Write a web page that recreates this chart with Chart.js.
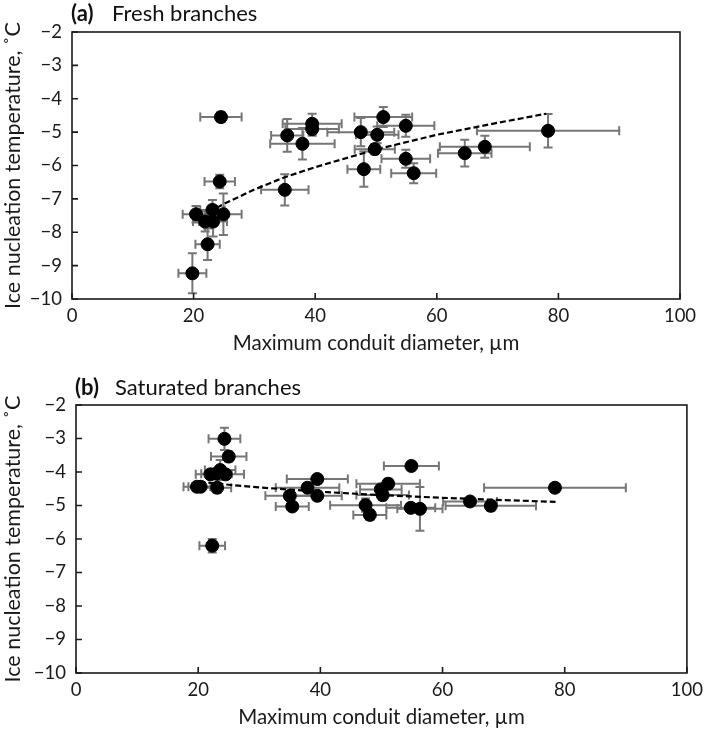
<!DOCTYPE html>
<html>
<head>
<meta charset="utf-8">
<script src="https://cdn.jsdelivr.net/npm/chart.js@4"></script>
<style>
  body { margin: 0; background: #fff; font-family: Lato, sans-serif; }
  #page { position: relative; width: 709px; height: 732px; }
  canvas { position: absolute; left: 0; }
  .lbl { position: absolute; font-size: 22px; line-height: 26px; color: #111; white-space: nowrap; }
  .lbl b { font-weight: bold; }
</style>
</head>
<body>
<div id="page">
  <canvas id="chartA" width="709" height="365" style="top:0"></canvas>
  <canvas id="chartB" width="709" height="367" style="top:365px"></canvas>
  <div class="lbl" style="left:71px; top:0px"><b>(a)</b></div>
  <div class="lbl" style="left:112px; top:0px">Fresh branches</div>
  <div class="lbl" style="left:75px; top:374px"><b>(b)</b></div>
  <div class="lbl" style="left:115px; top:374px">Saturated branches</div>
</div>
<script>
// axis ticks
var xTicks = [0, 20, 40, 60, 80, 100];
var yTicks = [-10, -9, -8, -7, -6, -5, -4, -3, -2];

// (a) fresh branches: conduit diameter, nucleation temp, and their error bars
var freshX    = [24.5, 35.4, 37.9, 35.0, 24.3, 20.4, 23.1, 24.9, 21.9, 23.2, 22.3, 19.8, 39.5, 39.5, 47.5, 51.2, 50.2, 54.9, 49.8, 54.9, 48.0, 56.2, 64.6, 67.9, 78.3];
var freshY    = [-4.55, -5.10, -5.35, -6.73, -6.48, -7.46, -7.33, -7.46, -7.68, -7.68, -8.36, -9.23, -4.75, -4.91, -5.00, -4.55, -5.08, -4.81, -5.51, -5.80, -6.11, -6.23, -5.63, -5.44, -4.96];
var freshXErr = [3.4, 2.65, 5.3, 3.9, 2.5, 2.2, 2.0, 3.0, 2.0, 2.3, 2.0, 2.3, 4.85, 4.4, 5.5, 4.75, 3.5, 4.7, 3.3, 4.0, 2.7, 3.7, 4.4, 7.4, 11.7];
var freshYErr = [0.15, 0.49, 0.47, 0.47, 0.2, 0.25, 0.3, 0.62, 0.3, 0.45, 0.47, 0.6, 0.3, 0.2, 0.42, 0.3, 0.25, 0.33, 0.15, 0.27, 0.53, 0.3, 0.4, 0.33, 0.5];
var freshTrendX = [22.5, 25, 30, 35, 40, 50, 60, 70, 78];
var freshTrendY = [-7.40, -7.15, -6.72, -6.35, -6.05, -5.52, -5.08, -4.72, -4.45];

// (b) saturated branches
var satX    = [24.3, 25.0, 23.6, 22.0, 23.0, 24.5, 19.8, 20.4, 23.1, 22.3, 35.0, 35.4, 37.9, 39.5, 39.5, 47.4, 48.1, 49.9, 50.2, 51.1, 54.9, 54.8, 56.3, 64.5, 67.9, 78.4];
var satY    = [-3.01, -3.54, -3.94, -4.07, -4.05, -4.07, -4.44, -4.44, -4.47, -6.20, -4.71, -5.03, -4.47, -4.21, -4.71, -4.99, -5.28, -4.52, -4.69, -4.35, -3.82, -5.07, -5.10, -4.88, -5.01, -4.47];
var satXErr = [2.6, 2.9, 2.5, 2.4, 2.5, 3.0, 2.2, 2.0, 2.3, 2.1, 4.0, 2.7, 5.2, 5.0, 4.0, 5.8, 2.7, 3.4, 4.3, 5.2, 4.5, 4.0, 3.7, 4.4, 7.4, 11.6];
var satYErr = [0.33, 0.15, 0.3, 0.12, 0.15, 0.12, 0.1, 0.12, 0.15, 0.2, 0.12, 0.1, 0.12, 0.1, 0.12, 0.2, 0.15, 0.12, 0.15, 0.15, 0.12, 0.12, 0.65, 0.1, 0.15, 0.12];
var satTrendX = [20.2, 25, 30, 40, 50, 60, 70, 78.5];
var satTrendY = [-4.29, -4.38, -4.46, -4.59, -4.69, -4.77, -4.84, -4.89];

Chart.defaults.font.family = "Lato, sans-serif";
Chart.defaults.color = "#1a1a1a";

function toPoints(xs, ys) {
	return xs.map(function (x, i) { return {x: x, y: ys[i]}; });
}

function minus(v) {
	return v < 0 ? "\u2212" + Math.abs(v) : String(v);
}

// grey error bars, drawn under the points
var errorBars = {
	id: "errorBars",
	beforeDatasetsDraw: function (chart) {
		var ctx = chart.ctx, xs = chart.scales.x, ys = chart.scales.y;
		ctx.save();
		ctx.strokeStyle = "#767676";
		ctx.lineWidth = 2;
		chart.data.datasets.forEach(function (ds) {
			if (!ds.xErr) return;
			ds.data.forEach(function (p, j) {
				var cx = xs.getPixelForValue(p.x), cy = ys.getPixelForValue(p.y);
				var x0 = xs.getPixelForValue(p.x - ds.xErr[j]), x1 = xs.getPixelForValue(p.x + ds.xErr[j]);
				var y0 = ys.getPixelForValue(p.y - ds.yErr[j]), y1 = ys.getPixelForValue(p.y + ds.yErr[j]);
				var c = 4.5;
				ctx.beginPath();
				ctx.moveTo(x0, cy); ctx.lineTo(x1, cy);
				ctx.moveTo(x0, cy - c); ctx.lineTo(x0, cy + c);
				ctx.moveTo(x1, cy - c); ctx.lineTo(x1, cy + c);
				ctx.moveTo(cx, y0); ctx.lineTo(cx, y1);
				ctx.moveTo(cx - c, y0); ctx.lineTo(cx + c, y0);
				ctx.moveTo(cx - c, y1); ctx.lineTo(cx + c, y1);
				ctx.stroke();
			});
		});
		ctx.restore();
	}
};

// box around plot area with inward tick marks
var frame = {
	id: "frame",
	afterDraw: function (chart) {
		var ctx = chart.ctx, a = chart.chartArea, xs = chart.scales.x, ys = chart.scales.y;
		ctx.save();
		ctx.strokeStyle = "#1a1a1a";
		ctx.lineWidth = 1.6;
		ctx.strokeRect(a.left, a.top, a.right - a.left, a.bottom - a.top);
		ctx.beginPath();
		xs.ticks.forEach(function (t) {
			var px = xs.getPixelForValue(t.value);
			ctx.moveTo(px, a.bottom); ctx.lineTo(px, a.bottom - 6);
		});
		ys.ticks.forEach(function (t) {
			var py = ys.getPixelForValue(t.value);
			ctx.moveTo(a.left, py); ctx.lineTo(a.left + 6, py);
		});
		ctx.stroke();
		ctx.restore();
	}
};

function makeChart(id, xs, ys, xErr, yErr, tx, ty, box) {
	return new Chart(document.getElementById(id), {
		type: "scatter",
		data: {
			datasets: [
				{
					data: toPoints(tx, ty),
					showLine: true,
					borderColor: "#000",
					borderWidth: 2.2,
					borderDash: [6, 3],
					pointRadius: 0,
					order: 2
				},
				{
					data: toPoints(xs, ys),
					xErr: xErr,
					yErr: yErr,
					backgroundColor: "#000",
					borderColor: "#000",
					pointRadius: 6.5,
					order: 1
				}
			]
		},
		options: {
			responsive: false,
			animation: false,
			layout: {padding: {left: 0, top: box.top, right: box.right, bottom: 0}},
			plugins: {legend: {display: false}, tooltip: {enabled: false}},
			scales: {
				x: {
					min: 0, max: 100,
					afterBuildTicks: function (s) { s.ticks = xTicks.map(function (v) { return {value: v}; }); },
					afterFit: function (s) { s.height = box.xh; },
					grid: {display: false, drawTicks: false},
					border: {display: false},
					ticks: {padding: 6, font: {size: 18.5}, maxRotation: 0},
					title: {display: true, text: "Maximum conduit diameter, \u00b5m", font: {size: 20.5}, padding: {top: 0, bottom: box.tb}}
				},
				y: {
					min: -10, max: -2,
					afterBuildTicks: function (s) { s.ticks = yTicks.map(function (v) { return {value: v}; }); },
					afterFit: function (s) { s.width = box.left; },
					grid: {display: false, drawTicks: false},
					border: {display: false},
					ticks: {padding: 10, font: {size: 18.5}, callback: minus},
					title: {display: true, text: "Ice nucleation temperature, \u02daC", font: {size: 21.5}, padding: {top: 0, bottom: 0}}
				}
			}
		},
		plugins: [errorBars, frame]
	});
}

makeChart("chartA", freshX, freshY, freshXErr, freshYErr, freshTrendX, freshTrendY,
	{top: 32, right: 29, left: 72, xh: 66, tb: 9});
makeChart("chartB", satX, satY, satXErr, satYErr, satTrendX, satTrendY,
	{top: 40, right: 19, left: 76, xh: 59, tb: 2});
</script>
</body>
</html>
